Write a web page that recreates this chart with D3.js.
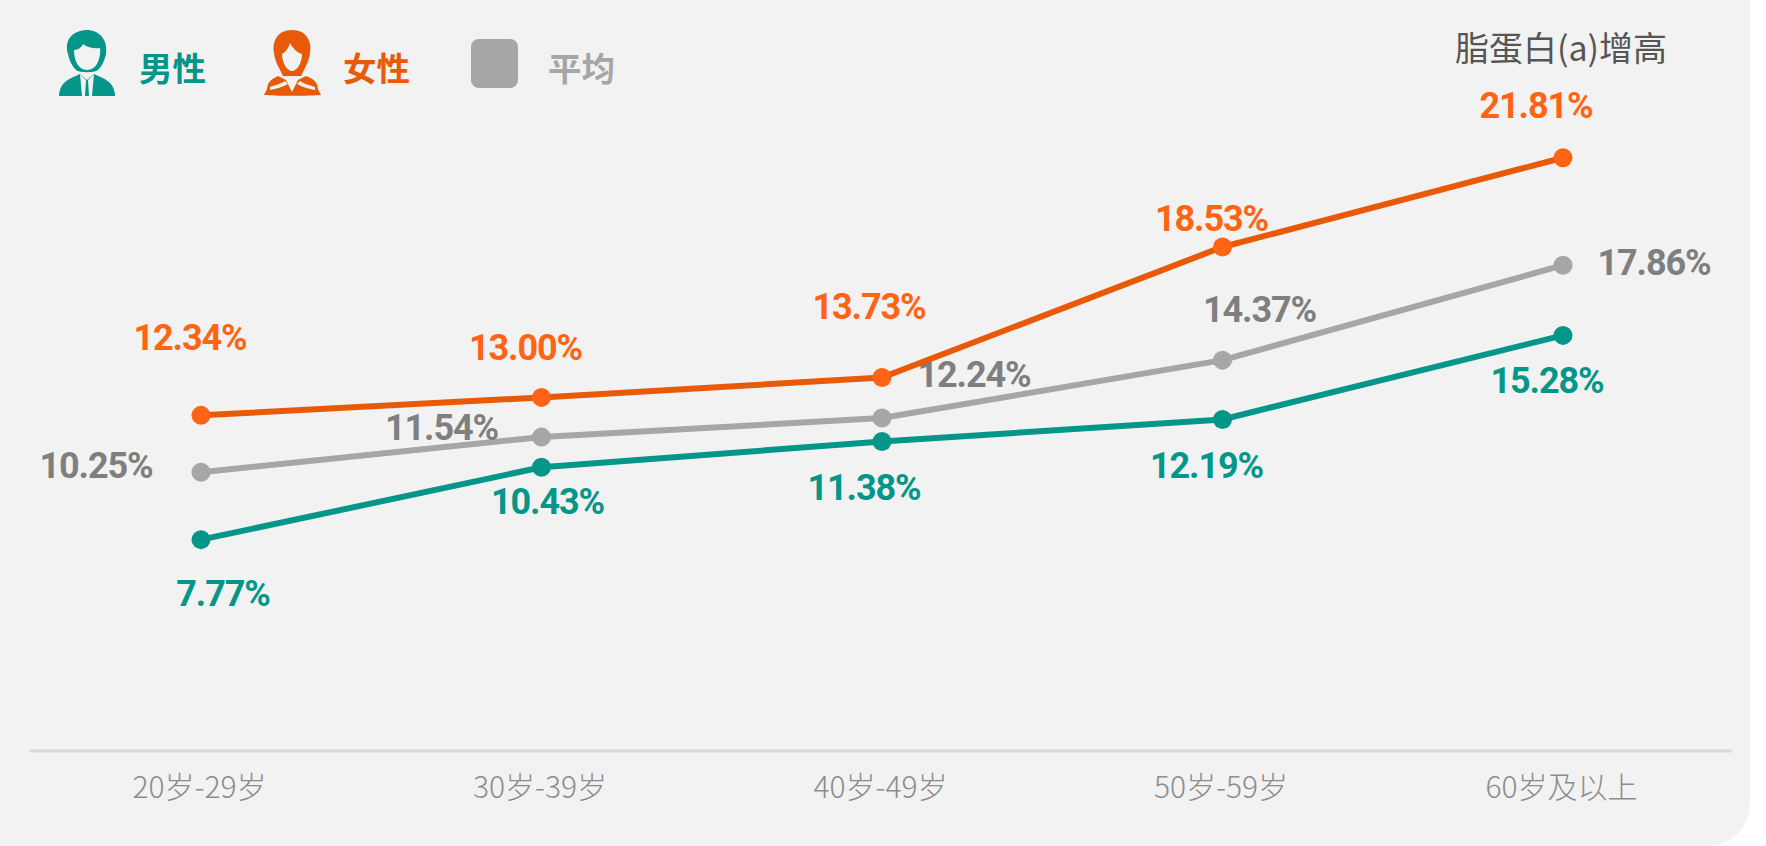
<!DOCTYPE html>
<html lang="zh">
<head>
<meta charset="utf-8">
<title>脂蛋白(a)增高</title>
<script src="https://cdn.jsdelivr.net/npm/d3@7/dist/d3.min.js"></script>
<style>
  html, body { margin: 0; padding: 0; background: #fff; }
  svg { display: block; }
  text { font-family: "Noto Sans CJK SC", "Noto Sans", sans-serif; }
  .value { font-family: Roboto, "Noto Sans", sans-serif; font-weight: 700; font-size: 36px; letter-spacing: -1.1px; text-anchor: middle; dominant-baseline: central; }
  .axis path.domain { stroke: #d9d9d9; stroke-width: 3px; }
  .axis .tick line { display: none; }
  .axis .tick text { font-size: 30px; font-weight: 300; fill: #8c8c8c; }
</style>
</head>
<body>
<svg id="chart" width="1766" height="846"></svg>
<script>
// Age bands and prevalence (%) per group
const ageBands = ["20岁-29岁", "30岁-39岁", "40岁-49岁", "50岁-59岁", "60岁及以上"];
const femaleValues = [12.34, 13.00, 13.73, 18.53, 21.81];
const averageValues = [10.25, 11.54, 12.24, 14.37, 17.86];
const maleValues = [7.77, 10.43, 11.38, 12.19, 15.28];
const chartTitle = "脂蛋白(a)增高";
const legendNames = ["男性", "女性", "平均"];

// Label offsets from each point, chosen so labels clear the lines
const femaleLabelOffsets = [[-11, -77], [-16, -49], [-13, -71], [-11, -28], [-27, -52]];
const averageLabelOffsets = [[-105, -6], [-100, -9], [92, -43], [37, -50], [91, -2]];
const maleLabelOffsets = [[22, 54], [6, 35], [-18, 47], [-16, 47], [-16, 46]];

const svg = d3.select("#chart");

// Panel with its rounded lower right corner
const panelW = 1750, panelH = 846, panelR = 42;
svg.append("path")
  .attr("d", `M0,0H${panelW}V${panelH - panelR}A${panelR},${panelR} 0 0 1 ${panelW - panelR},${panelH}H0Z`)
  .attr("fill", "#f2f2f2");

const x = d3.scalePoint().domain(ageBands).range([201, 1563]);
const y = d3.scaleLinear().domain([0, 22]).range([751, 152.6]);

// Category axis on the zero line
const axis = svg.append("g")
  .attr("class", "axis")
  .attr("transform", `translate(0,${y(0)})`)
  .call(d3.axisBottom(x).tickSize(0).tickPadding(26));
axis.select("path.domain").attr("d", "M30,0H1732");
axis.selectAll(".tick text").attr("dx", -2);

const series = [
  { values: averageValues, line: "#a6a6a6", dot: "#a6a6a6", label: "#7f7f7f", offsets: averageLabelOffsets },
  { values: femaleValues, line: "#e85a08", dot: "#ff6414", label: "#ff6414", offsets: femaleLabelOffsets },
  { values: maleValues, line: "#05968a", dot: "#05968a", label: "#05968a", offsets: maleLabelOffsets }
];

const line = d3.line().x((d, i) => x(ageBands[i])).y(d => y(d));

series.forEach(s => {
  const g = svg.append("g");
  g.append("path")
    .attr("d", line(s.values))
    .attr("fill", "none")
    .attr("stroke", s.line)
    .attr("stroke-width", 6);
  g.selectAll("circle").data(s.values).join("circle")
    .attr("cx", (d, i) => x(ageBands[i]))
    .attr("cy", d => y(d))
    .attr("r", 9.5)
    .attr("fill", s.dot);
  g.selectAll("text").data(s.values).join("text")
    .attr("class", "value")
    .attr("x", (d, i) => x(ageBands[i]) + s.offsets[i][0])
    .attr("y", (d, i) => y(d) + s.offsets[i][1])
    .attr("fill", s.label)
    .text(d => d.toFixed(2) + "%");
});

// Title, top right
svg.append("text")
  .attr("x", 1561).attr("y", 46)
  .attr("text-anchor", "middle").attr("dominant-baseline", "central")
  .attr("font-size", 34).attr("fill", "#555")
  .text(chartTitle);

// Legend: person glyphs, swatch and names
const legendText = [[139, "#05968a"], [343, "#e85a08"], [548, "#a6a6a6"]];
legendNames.forEach((name, i) => {
  svg.append("text")
    .attr("x", legendText[i][0]).attr("y", 66)
    .attr("dominant-baseline", "central")
    .attr("font-size", 33.5).attr("font-weight", 700)
    .attr("fill", legendText[i][1])
    .text(name);
});

const man = svg.append("g").attr("transform", "translate(59,30)").attr("fill", "#05968a");
man.append("path").attr("d", "M9,24C5,10 13,1 27,0C41,0 49,10 47,24C46,30 43,36 39,40C35,43 21,43 17,40C13,36 10,30 9,24Z");
man.append("path").attr("fill", "#f2f2f2").attr("d", "M15,20C19,20 23,17 24,14C29,18 36,19 41,18C42,28 38,40 28,40C19,40 15,30 15,20Z");
man.append("path").attr("d", "M21,44L28,50L35,44C40,47 52,49 55,60C56,63 56,65 56,66H0C0,65 0,63 1,60C4,49 16,47 21,44Z");
man.append("path").attr("fill", "#f2f2f2").attr("d", "M21,44L27,50L26,66H23ZM35,44L29,50L30,66H33Z");

const woman = svg.append("g").attr("transform", "translate(264,30)").attr("fill", "#e85a08");
woman.append("path").attr("d", "M28,0C43,0 48,12 46,23C45,30 43,34 41,38L37,46H19L15,38C13,34 11,30 10,23C8,12 13,0 28,0Z");
woman.append("path").attr("fill", "#f2f2f2").attr("d", "M18,24C22,22 25,17 26,13C29,19 34,23 38,24C38,33 33,41 28,41C23,41 18,33 18,24Z");
woman.append("path").attr("d", "M14,46L22,50L28,62L34,50L42,46C48,49 53,50 54,59L57,65C48,66 9,66 0,65L3,59C4,50 9,49 14,46Z");
woman.append("path").attr("fill", "#f2f2f2").attr("d", "M6,57C11,55 17,54 21,51L24,54C19,57 12,59 6,60ZM51,57C46,55 40,54 36,51L33,54C38,57 45,59 51,60Z");

svg.append("rect")
  .attr("x", 471).attr("y", 39).attr("width", 47).attr("height", 49)
  .attr("rx", 8).attr("fill", "#a6a6a6");
</script>
</body>
</html>
